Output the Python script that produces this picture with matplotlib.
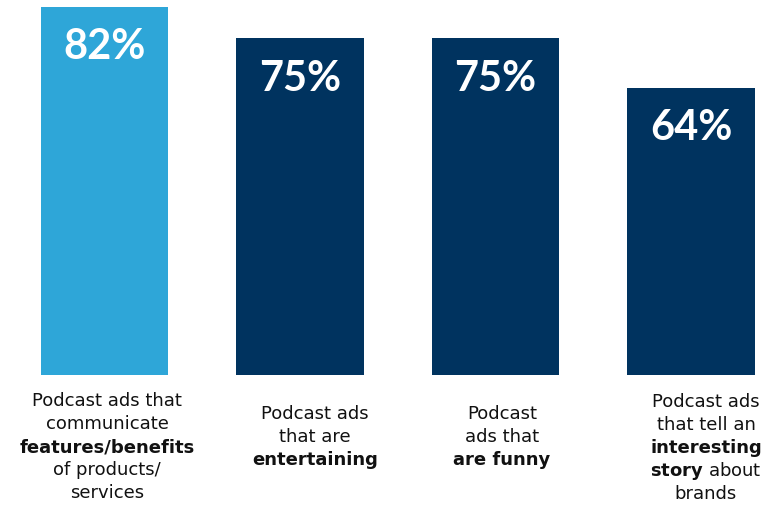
import matplotlib.pyplot as plt

plt.rcParams['font.family'] = ['DejaVu Sans']
plt.rcParams['mathtext.fontset'] = 'custom'
plt.rcParams['mathtext.rm'] = 'DejaVu Sans'
plt.rcParams['mathtext.bf'] = 'DejaVu Sans:bold'

values = [82, 75, 75, 64]
colors = ['#2EA6D8', '#00335F', '#00335F', '#00335F']

# each label: list of (text, bold) lines
labels = [
    [('Podcast ads that', False), ('communicate', False), ('features/benefits', True),
     ('of products/', False), ('services', False)],
    [('Podcast ads', False), ('that are', False), ('entertaining', True)],
    [('Podcast', False), ('ads that', False), ('are funny', True)],
    [('Podcast ads', False), ('that tell an', False), ('interesting', True),
     (r'$\mathbf{story}$ about', False), ('brands', False)],
]

W, H = 779, 505
fig = plt.figure(figsize=(W / 100, H / 100), dpi=100)
ax = fig.add_axes([0, 130 / H, 1, 369 / H])

x = range(len(values))
ax.bar(x, values, width=0.65, color=colors)
ax.set_xlim(-104.5 / 195.5, (W - 104.5) / 195.5)
ax.set_ylim(0, 82.2)
ax.axis('off')

for i, v in enumerate(values):
    ax.annotate(f'{v}%', (i, v), xytext=(0, -29), textcoords='offset points',
                ha='center', va='center', color='white', fontsize=30,
                fontweight='bold', family='Lato')

# label placement in pixels (layout only)
label_x = [107, 315, 502, 706]
label_top = [406, 419, 419, 407]
step = 23
for lines, lx, ly in zip(labels, label_x, label_top):
    for k, (txt, bold) in enumerate(lines):
        fig.text(lx / W, 1 - (ly + k * step) / H, txt, ha='center', va='baseline',
                 fontsize=13, color='#111111', fontweight='bold' if bold else 'normal')

fig.savefig('out.png', dpi=100)
